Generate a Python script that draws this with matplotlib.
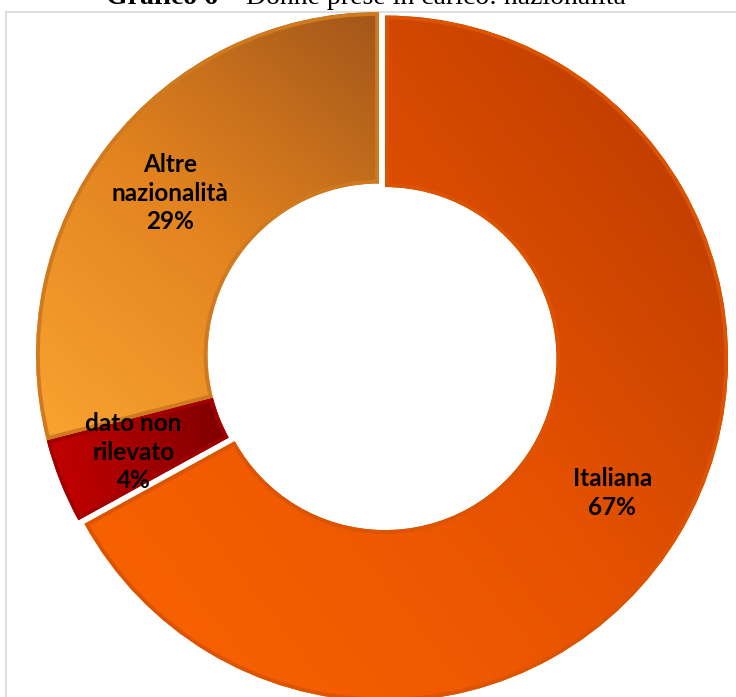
import numpy as np
import matplotlib.pyplot as plt
from matplotlib.colors import LinearSegmentedColormap

# Donne prese in carico per nazionalità (%)
labels = ["Italiana", "dato non\nrilevato", "Altre\nnazionalità"]
shares = [67, 4, 29]
pulled_out = [True, False, False]

# gradient stops per slice (light -> dark) and direction in degrees
grad_colors = [["#fd6500", "#e85300", "#b43800"],
               ["#c80000", "#a40000", "#7c0000"],
               ["#f9a431", "#e3831f", "#a2561a"]]
grad_angles = [38, 10, 50]
edge_colors = ["#dc5300", "#a20000", "#cf7a1e"]

W, H = 736, 697
fig = plt.figure(figsize=(W / 100, H / 100), dpi=100)
ax = fig.add_axes([0, 0, 1, 1])

cx, cy, R = 379, 342, 343
wedges, _, autotexts = ax.pie(
    shares,
    explode=[7 if p else 0 for p in pulled_out],  # offset in data units
    startangle=90,
    counterclock=False,
    center=(cx, cy),
    radius=R,
    autopct="%1.0f%%",
    pctdistance=0.77,
    wedgeprops=dict(width=R * 0.5, linewidth=5.5),
    textprops=dict(fontfamily="Lato", fontweight="bold", fontsize=17.5, color="black"),
)

# fill each ring slice with a linear gradient spanning its own bounding box
for w, cols, ang, ec in zip(wedges, grad_colors, grad_angles, edge_colors):
    w.set_facecolor("none")
    w.set_edgecolor(ec)
    w.set_zorder(3)
    # keep the border on the inside of the slice (pie turns clipping off)
    w.set_clip_path(w)
    w.set_clip_on(True)
    bb = w.get_path().get_extents()
    cmap = LinearSegmentedColormap.from_list("g", list(zip([0, 0.5, 1], cols)))
    xs = np.linspace(bb.x0 - 2, bb.x1 + 2, 150)
    ys = np.linspace(bb.y0 - 2, bb.y1 + 2, 150)
    X, Y = np.meshgrid(xs, ys)
    a = np.deg2rad(ang)
    Z = X * np.cos(a) + Y * np.sin(a)
    im = ax.imshow(Z, extent=(xs[0], xs[-1], ys[0], ys[-1]), origin="lower",
                   cmap=cmap, vmin=Z.min(), vmax=Z.max(), zorder=2,
                   interpolation="bilinear", aspect="auto")
    im.set_clip_path(w)

for t, lab, v in zip(autotexts, labels, shares):
    t.set_text(f"{lab}\n{v}%")
    t.set_linespacing(1.3)
    t.set_zorder(5)

ax.set_xlim(0, W)
ax.set_ylim(0, H)
ax.set_aspect("equal")
ax.axis("off")

# chart frame (left and top edges visible)
ax.plot([5.5, 5.5], [-5, H - 11.5], color="#d9d9d9", lw=1.2, clip_on=False)
ax.plot([5.5, W + 5], [H - 11.5, H - 11.5], color="#d9d9d9", lw=1.2, clip_on=False)

# title, bold figure number followed by regular text
t1 = ax.text(0, H - 4, "Grafico 6", fontfamily="Liberation Serif", fontweight="bold",
             fontsize=20, va="baseline", ha="left", clip_on=False)
t2 = ax.text(0, H - 4, " \u2013 Donne prese in carico: nazionalità", fontfamily="Liberation Serif",
             fontsize=20, va="baseline", ha="left", clip_on=False)
fig.canvas.draw()
rend = fig.canvas.get_renderer()
w1 = t1.get_window_extent(rend).width
w2 = t2.get_window_extent(rend).width
x0 = 366 - (w1 + w2) / 2
t1.set_x(x0)
t2.set_x(x0 + w1)

fig.savefig("out.png", dpi=100)
